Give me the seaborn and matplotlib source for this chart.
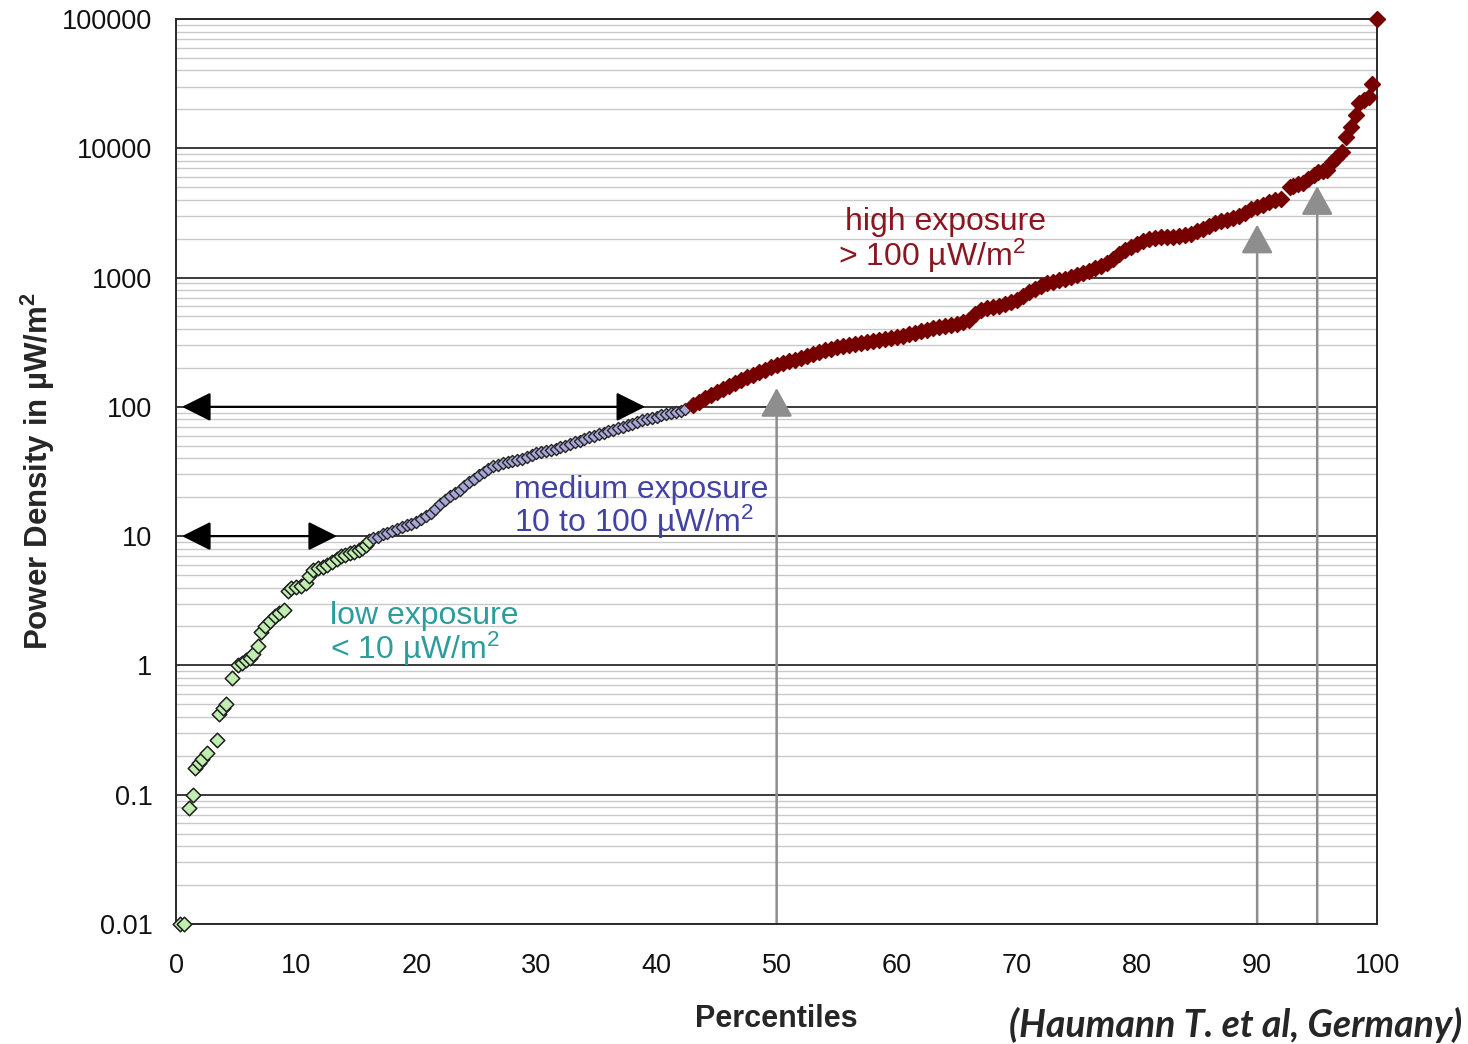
import numpy as np
import pandas as pd
import matplotlib
matplotlib.use("Agg")
import matplotlib.pyplot as plt
from matplotlib.ticker import LogLocator, NullFormatter
import seaborn as sns

# ---- measured exposure percentiles (power density in uW/m^2) ----
low_pct = [0.3, 0.7, 1.1, 1.4, 1.6, 1.9, 2.2, 2.6, 3.4, 3.6, 3.9, 4.2, 4.7,
           5.2, 5.5, 5.8, 6.2, 6.4, 6.8, 7.1, 7.4, 7.8, 8.2, 8.6, 9.0, 9.3,
           9.6, 10.0, 10.4, 10.8, 11.1, 11.4, 11.8, 12.2, 12.6, 13.0, 13.4,
           13.7, 14.1, 14.5, 14.8, 15.2, 15.5, 15.8, 16.1]
low_val = [0.01, 0.01, 0.079, 0.10, 0.16, 0.175, 0.19, 0.21, 0.265, 0.42,
           0.47, 0.50, 0.80, 1.0, 1.05, 1.1, 1.15, 1.22, 1.42, 1.8, 2.0, 2.2,
           2.4, 2.55, 2.7, 3.75, 3.95, 4.05, 4.1, 4.35, 4.9, 5.5, 5.65, 5.8,
           6.0, 6.35, 6.6, 7.0, 7.2, 7.4, 7.6, 7.8, 8.1, 8.6, 9.2]

# medium band, sampled every 0.4 percentile from 16.4 to 42.4
med_val = [9.7, 9.9, 10.3, 10.6, 10.9, 11.3, 11.8, 12.2, 12.5, 12.9, 13.6,
           14.3, 15.2, 16.3, 17.6, 19.0, 20.3, 21.4, 22.6, 24.2, 26.0, 27.8,
           29.7, 31.6, 33.0, 34.6, 35.8, 36.6, 37.4, 38.2, 39.0, 39.8, 41.0,
           42.4, 43.8, 44.6, 45.7, 46.6, 47.5, 48.6, 49.8, 51.5, 53.1, 54.8,
           56.6, 58.4, 59.8, 61.2, 62.5, 64.5, 66.7, 68.8, 70.3, 71.8, 73.6,
           76.2, 78.6, 80.6, 82.4, 84.1, 86.0, 87.9, 89.8, 91.7, 93.6, 96.0]
med_pct = np.linspace(16.4, 42.4, len(med_val))

# high band, sampled every 0.5 percentile from 43 to 92
high_val = [103, 109, 116, 124, 131, 138, 146, 153, 161, 169, 177, 185, 194,
            202, 212, 220, 226, 232, 239, 247, 256, 265, 273, 281, 288, 294,
            300, 305, 311, 316, 322, 328, 333, 340, 345, 353, 363, 372, 383,
            394, 404, 415, 423, 431, 439, 452, 473, 525, 566, 578, 589, 604,
            624, 643, 676, 726, 773, 815, 859, 904, 929, 953, 977, 1009, 1047,
            1089, 1132, 1180, 1233, 1288, 1396, 1517, 1629, 1738, 1832, 1910,
            1972, 2018, 2051, 2061, 2070, 2094, 2123, 2188, 2275, 2388, 2518,
            2643, 2716, 2786, 2904, 3020, 3184, 3365, 3524, 3664, 3819, 3972,
            4074]
high_pct = list(np.linspace(43.0, 92.0, len(high_val)))
# upper tail
tail_pct = [92.7, 93.0, 93.4, 93.8, 94.2, 94.7, 95.1, 95.5, 95.8, 96.2, 96.6,
            97.05, 97.4, 97.8, 98.2, 98.5, 98.9, 99.3, 99.6, 99.95]
tail_val = [5050, 5150, 5250, 5400, 5800, 6220, 6500, 6650, 6800, 7880, 8380,
            9420, 12160, 14530, 18100, 22300, 23650, 25000, 31400, 100000]

# marked percentiles (50th, 90th, 95th) and the level each arrow points to
mark_pct = [50, 90, 95]
mark_tip = [140, 2570, 5100]

y_ticks = [0.01, 0.1, 1, 10, 100, 1000, 10000, 100000]
y_tick_labels = ["0.01", "0.1", "1", "10", "100", "1000", "10000", "100000"]
x_ticks = [0, 10, 20, 30, 40, 50, 60, 70, 80, 90, 100]

low_df = pd.DataFrame({"pct": low_pct, "val": low_val})
med_df = pd.DataFrame({"pct": med_pct, "val": med_val})
high_df = pd.DataFrame({"pct": high_pct + tail_pct, "val": high_val + tail_val})

sns.set_style("white")
plt.rcParams["font.family"] = ["Liberation Sans", "DejaVu Sans"]
plt.rcParams["mathtext.default"] = "regular"

fig = plt.figure(figsize=(14.68, 10.44), dpi=100)
ax = fig.add_axes([0.1199, 0.115, 0.8183, 0.8668])
ax.set_yscale("log")
ax.set_xlim(0, 100)
ax.set_ylim(0.01, 100000)

# grid: light minor lines, dark decade lines
ax.yaxis.set_minor_locator(LogLocator(base=10, subs=np.arange(2, 10), numticks=50))
ax.yaxis.set_minor_formatter(NullFormatter())
ax.grid(which="minor", axis="y", color="#c9c9c9", lw=1.0, zorder=0)
ax.grid(which="major", axis="y", color="#3a3a3a", lw=1.4, zorder=0)
ax.grid(which="major", axis="x", visible=False)
ax.set_axisbelow(True)

# black range arrows at 100 and 10 uW/m^2
for y, x1 in [(100, 39.05), (10, 13.4)]:
    ax.annotate("", xy=(x1, y), xytext=(0.5, y),
                arrowprops=dict(arrowstyle="<|-|>,head_length=1.0,head_width=0.5",
                                mutation_scale=18, color="black", lw=1.6,
                                shrinkA=0, shrinkB=0), zorder=2)

# grey percentile arrows
for p, tip in zip(mark_pct, mark_tip):
    ax.annotate("", xy=(p, tip), xytext=(p, 0.01),
                arrowprops=dict(arrowstyle="-|>,head_length=1.0,head_width=0.55",
                                mutation_scale=18, color="#8e8e8e", lw=1.8,
                                shrinkA=0, shrinkB=0), zorder=2)

sns.scatterplot(data=low_df, x="pct", y="val", ax=ax, marker="D", s=55,
                color="#bfeeb0", edgecolor="#1e1e1e", linewidth=1.1,
                zorder=4, clip_on=False)
sns.scatterplot(data=med_df, x="pct", y="val", ax=ax, marker="D", s=38,
                color="#a8a8d8", edgecolor="#262626", linewidth=1.0,
                zorder=4, clip_on=False)
sns.scatterplot(data=high_df, x="pct", y="val", ax=ax, marker="D", s=66,
                color="#760000", edgecolor="#760000", linewidth=1.0,
                zorder=4, clip_on=False)

# region labels
fs = 23
ax.text(55.7, 2690, "high exposure", color="#8a1620", fontsize=fs, va="center")
ax.text(55.1, 1470, "> 100 µW/m$^2$", color="#8a1620", fontsize=fs, va="center")
ax.text(28.1, 22.8, "medium exposure", color="#4343a6", fontsize=fs, va="center")
ax.text(28.1, 12.9, "10 to 100 µW/m$^2$", color="#4343a6", fontsize=fs, va="center")
ax.text(12.8, 2.41, "low exposure", color="#2f9c9c", fontsize=fs, va="center")
ax.text(12.8, 1.34, "< 10 µW/m$^2$", color="#2f9c9c", fontsize=fs, va="center")

ax.set_yticks(y_ticks)
ax.set_yticklabels(y_tick_labels)
ax.set_xticks(x_ticks)
ax.tick_params(axis="both", which="major", direction="out", length=8,
               width=1.2, color="#333333", labelsize=19.5, labelcolor="#111111")
ax.tick_params(axis="y", which="major", pad=9)
ax.tick_params(axis="x", which="major", pad=13)
ax.tick_params(axis="y", which="minor", length=0)

for side in ["left", "bottom", "right", "top"]:
    ax.spines[side].set_color("#2a2a2a")
    ax.spines[side].set_linewidth(1.4)

ax.set_xlabel("Percentiles", fontsize=22, fontweight="bold", labelpad=18)
ax.set_ylabel("Power Density in µW/m$^2$", fontsize=22.5, fontweight="bold",
              labelpad=4)

fig.text(0.996, 0.018, "(Haumann T. et al, Germany)", ha="right", va="center",
         fontsize=27, fontweight="bold", style="italic",
         family=["Lato", "DejaVu Sans"])

fig.savefig("out.png", dpi=100, facecolor="white")
